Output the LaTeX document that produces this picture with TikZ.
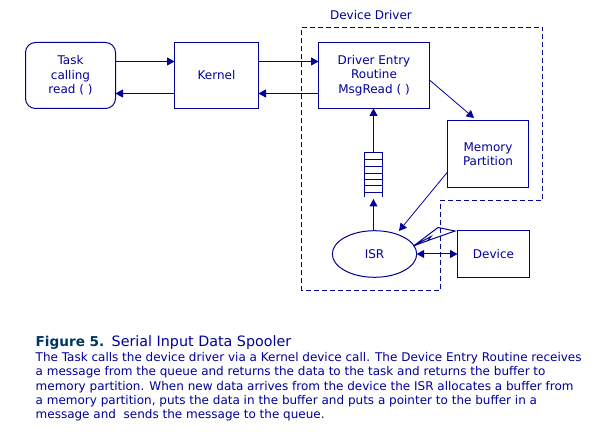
\documentclass[tikz,border=0pt]{standalone}
\usepackage{fontspec}
\setmainfont{DejaVu Sans}
\usetikzlibrary{arrows.meta,shapes.geometric}
\definecolor{drvblue}{HTML}{000099}
\definecolor{figblue}{HTML}{003366}
\tikzset{
  boxnode/.style={draw=drvblue, line width=1pt, rectangle, inner sep=0pt, outer sep=0pt, anchor=north west, text=drvblue, align=center, font=\fontsize{12}{14.4}\selectfont},
  txtnode/.style={inner sep=0pt, text=drvblue, font=\fontsize{12}{14.4}\selectfont},
  flow/.style={draw=drvblue, line width=1pt, -{Triangle[length=7.5pt,width=8pt]}},
  thinflow/.style={draw=drvblue, line width=0.8pt, -{Triangle[length=7.5pt,width=8pt]}}
}
\begin{document}
\begin{tikzpicture}[x=1pt,y=-1pt]
  \useasboundingbox (0,0) rectangle (597,435);
  % dashed outline of the driver
  \draw [drvblue, line width=1pt, dash pattern=on 5pt off 3pt] (301.5,27.5) -- (542.5,27.5) -- (542.5,200.5) -- (440.5,200.5) -- (440.5,290.5) -- (301.5,290.5) -- cycle;
  \node (title) [txtnode, anchor=center] at (371,15) {Device Driver};

  \node (task) [boxnode, rounded corners=10pt, minimum width=90pt, minimum height=66pt] at (25.5,42.5) {Task\\calling\\read ( )};
  \node (kernel) [boxnode, minimum width=84pt, minimum height=66pt] at (174.5,42.5) {Kernel};
  \node (entry) [boxnode, minimum width=111pt, minimum height=66pt] at (318.5,42.5) {Driver Entry\\Routine\\MsgRead ( )};
  \node (memory) [boxnode, minimum width=81pt, minimum height=67pt] at (447.5,120.5) {Memory\\Partition};
  \node (device) [boxnode, minimum width=72pt, minimum height=47pt] at (457.5,230.5) {Device};
  \node (isr) [draw=drvblue, line width=1pt, ellipse, inner sep=0pt, outer sep=0pt, text=drvblue, minimum width=84.4pt, minimum height=46.6pt, font=\fontsize{12}{14.4}\selectfont] at (374.5,254) {ISR};

  % queue
  \coordinate (qtop) at (373.5,152.5);
  \coordinate (qbot) at (373.5,199);
  \draw [drvblue, line width=1pt] (364.5,197.5) -- (364.5,152.5) -- (382.5,152.5) -- (382.5,197.5);
  \foreach \y in {159.5,166.5,173.5,179.5,185.5,192.5}
    \draw [drvblue, line width=1pt] (364.5,\y) -- (382.5,\y);

  % calls
  \draw [flow] (task.east |- 0,61.5) -- (kernel.west |- 0,61.5);
  \draw [flow] (kernel.west |- 0,93.5) -- (task.east |- 0,93.5);
  \draw [flow] (kernel.east |- 0,61.5) -- (entry.west |- 0,61.5);
  \draw [flow] (entry.west |- 0,93.5) -- (kernel.east |- 0,93.5);
  \draw [thinflow] (entry.east |- 0,80) -- (474,118);
  \draw [flow] (qtop) -- (entry.south -| qtop);
  \draw [flow] (isr.north -| qbot) -- (qbot);
  \draw [thinflow] (memory.west |- 0,172) -- (399,231);
  \draw [draw=drvblue, line width=1pt, {Triangle[length=7.5pt,width=8pt]}-{Triangle[length=7.5pt,width=8pt]}] (isr.east) -- (device.west);

  % lightning
  \draw [drvblue, line width=1pt] (413.5,246) -- (438,227.5) -- (455,231) -- (428,240.5) -- (431,236.5) -- cycle;
  \draw [drvblue, line width=1pt] (413.5,246) -- (428,240.5);

  % caption
  \node (figno) [anchor=base west, inner sep=0pt, text=figblue, font=\fontsize{13.6}{16}\selectfont\bfseries] at (35.5,346.7) {Figure 5.};
  \node (figtitle) [txtnode, anchor=base west, font=\fontsize{14.3}{16}\selectfont] at (111.5,346.7) {Serial Input Data Spooler};
  \node (caption) [txtnode, anchor=north west, align=left] at (35.5,352) {The Task calls the device driver via a Kernel device call. The Device Entry Routine receives\\a message from the queue and returns the data to the task and returns the buffer to\\memory partition. When new data arrives from the device the ISR allocates a buffer from\\a memory partition, puts the data in the buffer and puts a pointer to the buffer in a\\message and\ \ sends the message to the queue.};
\end{tikzpicture}
\end{document}
